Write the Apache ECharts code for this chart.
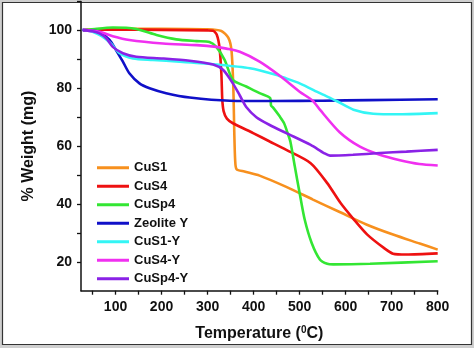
<!DOCTYPE html>
<html><head><meta charset="utf-8">
<script src="https://cdn.jsdelivr.net/npm/echarts@6/dist/echarts.min.js"></script>
<style>html,body{margin:0;padding:0;background:#fff}#c{width:474px;height:348px}</style>
</head><body><div id="c"></div>
<script>
var seriesNames = ['CuS1','CuS4','CuSp4','Zeolite Y','CuS1-Y','CuS4-Y','CuSp4-Y'];
var seriesColors = ['#F7901E','#EE1111','#33E633','#1010C8','#33F5F5','#F030F0','#8A22E6'];
var xTicks = [100,200,300,400,500,600,700,800];
var xMinorTicks = [50,100,150,200,250,300,350,400,450,500,550,600,650,700,750,800];
var yTicks = [20,40,60,80,100];
var yMinorTicks = [20,30,40,50,60,70,80,90,100,110];

var cuS1 = [[30,100.3],[100,100.6],[200,100.6],[300,100.4],[330,99.8],[345,97.5],[352,93],[356,80],[358,65],[360,55],[363,52],[380,51.2],[413,49.8],[471,45.9],[529,41.5],[587,37.2],[645,32.9],[703,29.4],[761,26.3],[800,24.2]];
var cuS4 = [[30,100],[100,100.3],[200,100.2],[300,100],[312,99.9],[320,98.5],[326,94],[330,85],[332,76],[335,72],[342,69.5],[355,67.9],[399,64.5],[435,61.6],[471,58.7],[524,54.1],[560,47.2],[589,40.3],[618,34.6],[647,29.4],[683,24.8],[703,22.8],[732,22.5],[800,22.9]];
var cuSp4 = [[30,100],[60,100.6],[94,101],[145,100.5],[189,98.4],[232,96.9],[276,96.3],[304,96],[319,94.3],[337,89.8],[355,82.9],[384,80.6],[413,78.3],[436,76.6],[438,74],[442,73.4],[457,70.2],[466,68],[475,64],[480,61.5],[489.5,53],[500,43.8],[511,34.6],[526,26.6],[544,20.8],[560,19.3],[573,19.1],[653,19.3],[800,20.2]];
var zeoliteY = [[28,100.2],[50,99.9],[65,99.5],[87,96.7],[101,93.2],[116,89.2],[130,85.2],[152,81.7],[174,80],[210,78.3],[261,76.8],[348,75.7],[450,75.6],[550,75.7],[650,75.9],[800,76.2]];
var cuS1Y = [[30,100.2],[50,99.5],[70,98],[90,95.5],[109,92.1],[138,90.3],[181,89.8],[239,89.2],[312,88.3],[392,86.9],[450,84.6],[471,83.4],[500,81.7],[544,78.3],[580,75.6],[617,72.6],[660,71.2],[718,71],[800,71.4]];
var cuS4Y = [[30,100.2],[65,99.5],[94,98],[130,96.7],[203,95.5],[276,94.9],[319,94.3],[341,93.7],[370,92.6],[413,89.2],[457,84.3],[500,78.8],[528,75.8],[544,72.6],[587,64.8],[631,59.8],[674,57],[718,55.1],[760,53.8],[800,53.3]];
var cuSp4Y = [[29,100.1],[50,99.7],[65,99],[80,97.3],[94,94.3],[116,92.1],[145,90.9],[203,90.3],[261,89.5],[312,88.2],[334,86.3],[355,81.7],[370,77.5],[384,73.5],[406,70],[435,67.3],[471,64.5],[524,60.4],[553,57.6],[566,56.7],[616,57],[674,57.6],[732,58.1],[800,58.7]];

var allData = [cuS1, cuS4, cuSp4, zeoliteY, cuS1Y, cuS4Y, cuSp4Y];
var FONT = '"Liberation Sans", Arial, sans-serif';

var chart = echarts.init(document.getElementById('c'), null, {renderer:'canvas'});
var series = allData.map(function(d, i){
  return {
    name: seriesNames[i], type: 'line', data: d, symbol: 'none', showSymbol: false,
    smooth: 0.25,
    lineStyle: {color: seriesColors[i], width: 2.6},
    itemStyle: {color: seriesColors[i]},
    z: 3
  };
});
chart.setOption({
  animation: false,
  backgroundColor: '#cfcfcf',
  graphic: [{type:'rect', z:-100, silent:true, shape:{x:2.5, y:2.5, width:469, height:342}, style:{fill:'#fff', stroke:'#333', lineWidth:1.2}}],
  grid: {left: 81, right: 36.3, top: 1.5, bottom: 57.3, containLabel: false},
  legend: {
    orient: 'vertical', left: 92, top: 155.5, itemWidth: 32, itemHeight: 3, itemGap: 4,
    icon: 'rect',
    data: seriesNames,
    textStyle: {fontFamily: FONT, fontWeight: 'bold', fontSize: 13, color: '#111', lineHeight: 14.5}
  },
  xAxis: {
    type: 'value', min: 25, max: 800,
    name: 'Temperature ({sup|0}C)', nameLocation: 'middle', nameGap: 35,
    nameTextStyle: {fontFamily: FONT, fontWeight: 'bold', fontSize: 16, color: '#111',
      rich: {sup: {fontFamily: FONT, fontWeight: 'bold', fontSize: 10, color: '#111', verticalAlign: 'top'}}},
    axisLine: {lineStyle: {color: '#111', width: 1.5}},
    axisTick: {show: true, inside: false, length: 4, lineStyle: {color: '#111', width: 1.3}, customValues: xMinorTicks},
    axisLabel: {customValues: xTicks, margin: 9, fontFamily: FONT, fontWeight: 'bold', fontSize: 14, color: '#111'},
    splitLine: {show: false}
  },
  yAxis: {
    type: 'value', min: 10, max: 110,
    name: '% Weight (mg)', nameLocation: 'middle', nameGap: 44,
    nameTextStyle: {fontFamily: FONT, fontWeight: 'bold', fontSize: 16, color: '#111'},
    axisLine: {show: true, lineStyle: {color: '#111', width: 1.5}},
    axisTick: {show: true, inside: false, length: 4, lineStyle: {color: '#111', width: 1.3}, customValues: yMinorTicks},
    axisLabel: {customValues: yTicks, margin: 9, fontFamily: FONT, fontWeight: 'bold', fontSize: 14, color: '#111'},
    splitLine: {show: false}
  },
  series: series
});
</script></body></html>
